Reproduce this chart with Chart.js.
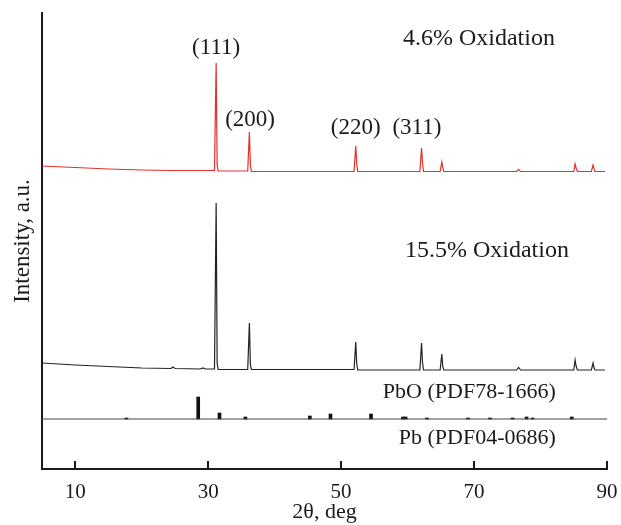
<!DOCTYPE html>
<html>
<head>
<meta charset="utf-8">
<script src="https://cdn.jsdelivr.net/npm/chart.js@4.4.1/dist/chart.umd.min.js"></script>
<style>
  body { margin: 0; background: #fff; }
  #wrap { width: 621px; height: 525px; }
</style>
</head>
<body>
<div id="wrap"><canvas id="xrd" width="621" height="525"></canvas></div>
<script>
// X-ray diffraction patterns, intensities in stacked arbitrary units

const X_TICKS = [10, 30, 50, 70, 90];

// 4.6% oxidation (red)
const RED_THETA = [5, 10, 15, 20, 25, 30.95, 31.2, 31.35, 31.5, 35.95, 36.2, 36.35, 36.5, 45,
  51.95, 52.2, 52.35, 52.5, 58, 61.85, 62.1, 62.25, 62.4, 64.9, 65.15, 65.3, 65.45, 72,
  76.4, 76.7, 77.0, 82, 85.0, 85.2, 85.35, 85.55, 87.65, 87.9, 88.05, 88.2, 89.7];
const RED_INT = [303, 301.5, 300, 299, 298.5, 298.5, 406, 304, 298, 298, 337, 304, 297.5, 297.5,
  297.5, 323, 305, 297.5, 297.5, 297.5, 321, 306, 297.5, 297.5, 307, 301, 297.5, 297.5,
  297.5, 299.5, 297.5, 297.5, 297.5, 305, 301, 297.5, 297.5, 304, 300.5, 297.5, 297.5];

// 15.5% oxidation (black)
const BLACK_THETA = [5, 10, 15, 20, 24.4, 24.7, 25.0, 28.8, 29.2, 29.6, 30.95, 31.2, 31.35, 31.5,
  35.95, 36.2, 36.35, 36.5, 45, 51.95, 52.2, 52.35, 52.5, 58, 61.85, 62.1, 62.25, 62.4,
  64.9, 65.15, 65.3, 65.45, 72, 76.4, 76.7, 77.0, 82, 85.0, 85.2, 85.35, 85.55,
  87.65, 87.9, 88.05, 88.2, 89.7];
const BLACK_INT = [106, 104, 102.5, 101, 100.5, 102, 100.5, 100, 101, 100, 100, 266, 106, 99.5,
  99.5, 146, 104, 99.5, 99.5, 99.5, 127, 105, 99, 99, 99, 126, 106, 99,
  99, 115, 102, 99, 99, 99, 101.5, 99, 99, 99, 109, 103, 99,
  99, 106, 101, 99, 99];

// PbO reference (PDF78-1666) stick pattern
const PBO_THETA = [17.7, 28.5, 31.7, 35.6, 45.3, 48.4, 54.5, 59.3, 59.7, 62.9, 69.1, 72.4, 75.8, 77.9, 78.8, 84.7];
const PBO_INT = [1, 22, 6, 2, 3, 5, 5, 2, 2, 1, 1, 1, 1, 2, 1, 2];
const PBO_BASE = 50;

// text drawn inside the plot, anchored in data coordinates
const NOTES = [
  { text: '(111)', x: 31.2, y: 421, align: 'center', size: 23 },
  { text: '(200)', x: 36.3, y: 349, align: 'center', size: 23 },
  { text: '(220)', x: 52.2, y: 341, align: 'center', size: 23 },
  { text: '(311)', x: 61.4, y: 341, align: 'center', size: 23 },
  { text: '4.6% Oxidation', x: 59.3, y: 430, align: 'left', size: 24 },
  { text: '15.5% Oxidation', x: 59.6, y: 218, align: 'left', size: 24 },
  { text: 'PbO (PDF78-1666)', x: 82.3, y: 77, align: 'right', size: 22 },
  { text: 'Pb (PDF04-0686)', x: 82.3, y: 31, align: 'right', size: 22 }
];

const SERIF = "'Liberation Serif', 'Times New Roman', serif";

function toPoints(xs, ys) {
  return xs.map((x, i) => ({ x: x, y: ys[i] }));
}

const notesPlugin = {
  id: 'notes',
  afterDatasetsDraw(chart) {
    const { ctx, scales } = chart;
    ctx.save();
    ctx.fillStyle = '#1a1a1a';
    ctx.textBaseline = 'middle';
    NOTES.forEach(n => {
      ctx.font = n.size + 'px ' + SERIF;
      ctx.textAlign = n.align;
      ctx.fillText(n.text, scales.x.getPixelForValue(n.x), scales.y.getPixelForValue(n.y));
    });
    // inward tick marks on the bottom axis
    ctx.strokeStyle = '#1a1a1a';
    ctx.lineWidth = 2;
    const bottom = chart.chartArea.bottom;
    X_TICKS.forEach(v => {
      const px = Math.round(scales.x.getPixelForValue(v));
      ctx.beginPath();
      ctx.moveTo(px, bottom);
      ctx.lineTo(px, bottom - 8);
      ctx.stroke();
    });
    ctx.restore();
  }
};

const ctx = document.getElementById('xrd');

new Chart(ctx, {
  type: 'line',
  data: {
    datasets: [
      {
        label: '4.6% Oxidation',
        data: toPoints(RED_THETA, RED_INT),
        borderColor: '#e2302a',
        borderWidth: 1.2,
        pointRadius: 0,
        tension: 0
      },
      {
        label: '15.5% Oxidation',
        data: toPoints(BLACK_THETA, BLACK_INT),
        borderColor: '#222',
        borderWidth: 1.2,
        pointRadius: 0,
        tension: 0
      },
      {
        label: 'PbO baseline',
        data: toPoints([5, 90], [PBO_BASE, PBO_BASE]),
        borderColor: '#444',
        borderWidth: 1.2,
        pointRadius: 0
      },
      {
        type: 'bar',
        label: 'PbO (PDF78-1666)',
        data: PBO_THETA.map((t, i) => ({ x: t, y: [PBO_BASE, PBO_BASE + PBO_INT[i]] })),
        backgroundColor: '#111',
        barThickness: 3
      }
    ]
  },
  options: {
    responsive: false,
    animation: false,
    layout: { padding: { top: 13, right: 14, left: 0, bottom: 0 } },
    plugins: {
      legend: { display: false },
      tooltip: { enabled: false }
    },
    scales: {
      x: {
        type: 'linear',
        min: 5,
        max: 90,
        offset: false,
        grid: { display: false, drawTicks: false },
        border: { display: true, color: '#1a1a1a', width: 2 },
        afterBuildTicks: scale => {
          scale.ticks = X_TICKS.map(v => ({ value: v }));
        },
        afterFit: scale => {
          scale.height = 56;
          scale.paddingLeft = 0;
          scale.paddingRight = 0;
        },
        ticks: {
          padding: 11,
          color: '#1a1a1a',
          maxRotation: 0,
          font: { family: SERIF, size: 21 }
        },
        title: {
          display: true,
          text: '2θ, deg',
          color: '#1a1a1a',
          padding: { top: 0, bottom: 0 },
          font: { family: SERIF, size: 22 }
        }
      },
      y: {
        min: 0,
        max: 456,
        grid: { display: false, drawTicks: false },
        border: { display: true, color: '#1a1a1a', width: 2 },
        ticks: { display: false },
        afterFit: scale => { scale.width = 42; },
        title: {
          display: true,
          text: 'Intensity, a.u.',
          color: '#1a1a1a',
          padding: { top: 9, bottom: 0 },
          font: { family: SERIF, size: 23 }
        }
      }
    }
  },
  plugins: [notesPlugin]
});
</script>
</body>
</html>
